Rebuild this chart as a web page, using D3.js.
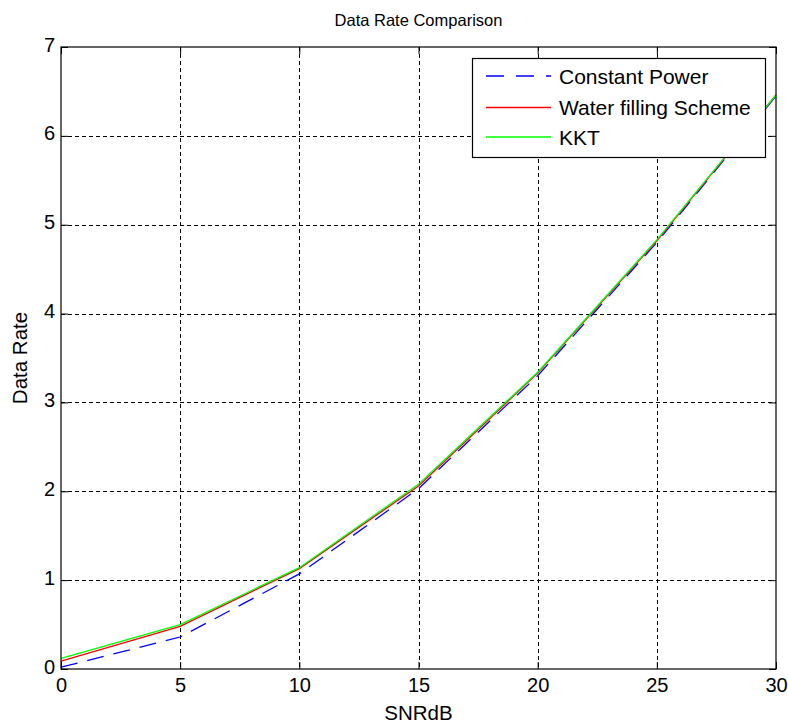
<!DOCTYPE html>
<html>
<head>
<meta charset="utf-8">
<script src="https://cdn.jsdelivr.net/npm/d3@7"></script>
<style>
  html, body { margin: 0; padding: 0; background: #fff; }
  svg { display: block; font-family: "Liberation Sans", Arial, sans-serif; }
</style>
</head>
<body>
<svg id="chart" width="788" height="727"></svg>
<script>
// ---- data ----
const snr = [0, 5, 10, 15, 20, 25, 30];
const constantPower = [0.02, 0.36, 1.07, 2.03, 3.30, 4.80, 6.45];
const waterFilling = [0.09, 0.48, 1.13, 2.06, 3.33, 4.82, 6.46];
const kkt = [0.12, 0.50, 1.14, 2.08, 3.34, 4.83, 6.46];
const seriesNames = ["Constant Power", "Water filling Scheme", "KKT"];
const xTicks = [0, 5, 10, 15, 20, 25, 30];
const yTicks = [0, 1, 2, 3, 4, 5, 6, 7];
const titleText = "Data Rate Comparison";
const xLabel = "SNRdB";
const yLabel = "Data Rate";

// ---- layout ----
const L = 61, R = 776, T = 47, B = 669;
const svg = d3.select("#chart");
const x = d3.scaleLinear().domain([0, 30]).range([L, R]);
const y = d3.scaleLinear().domain([0, 7]).range([B, T]);

// grid
const grid = svg.append("g").attr("stroke", "#000").attr("stroke-width", 1)
  .attr("stroke-dasharray", "4,3");
grid.selectAll(".gx").data(xTicks.slice(1, -1)).join("line")
  .attr("x1", d => Math.round(x(d)) + 0.5).attr("x2", d => Math.round(x(d)) + 0.5)
  .attr("y1", T).attr("y2", B);
grid.selectAll(".gy").data(yTicks.slice(1, -1)).join("line")
  .attr("y1", d => Math.round(y(d)) + 0.5).attr("y2", d => Math.round(y(d)) + 0.5)
  .attr("x1", L).attr("x2", R);

// lines
const series = [
  { name: seriesNames[0], values: constantPower, color: "#0000ff", dash: "17,10" },
  { name: seriesNames[1], values: waterFilling, color: "#ff0000", dash: null },
  { name: seriesNames[2], values: kkt, color: "#00ff00", dash: null }
];
const line = d3.line().x(d => x(d[0])).y(d => y(d[1]));
series.forEach(s => {
  svg.append("path")
    .datum(snr.map((v, i) => [v, s.values[i]]))
    .attr("d", line)
    .attr("fill", "none")
    .attr("stroke", s.color)
    .attr("stroke-width", 1.3)
    .attr("stroke-dasharray", s.dash);
});

// axes
const fmt = d3.format("d");
const gx = svg.append("g").attr("transform", `translate(0,${B})`)
  .call(d3.axisBottom(x).tickValues(xTicks).tickSizeInner(-7).tickSizeOuter(0).tickPadding(9).tickFormat(fmt));
const gy = svg.append("g").attr("transform", `translate(${L},0)`)
  .call(d3.axisLeft(y).tickValues(yTicks).tickSizeInner(-7).tickSizeOuter(0).tickPadding(6).tickFormat(fmt));
const gt = svg.append("g").attr("transform", `translate(0,${T})`)
  .call(d3.axisTop(x).tickValues(xTicks).tickSizeInner(-7).tickSizeOuter(0).tickFormat(""));
const gr = svg.append("g").attr("transform", `translate(${R},0)`)
  .call(d3.axisRight(y).tickValues(yTicks).tickSizeInner(-7).tickSizeOuter(0).tickFormat(""));
[gx, gy, gt, gr].forEach(g => {
  g.select(".domain").remove();
  g.selectAll("line").attr("stroke", "#000");
  g.selectAll("text").attr("fill", "#000").style("font-size", "20px")
    .style("font-family", "'Liberation Sans', Arial, sans-serif");
});
gy.selectAll("text").attr("dy", "0.2em");

svg.append("rect").attr("x", L).attr("y", T).attr("width", R - L).attr("height", B - T)
  .attr("fill", "none").attr("stroke", "#000").attr("stroke-width", 1.2);

// titles
svg.append("text").attr("x", (L + R) / 2).attr("y", 26).attr("text-anchor", "middle")
  .style("font-size", "16.5px").text(titleText);
svg.append("text").attr("x", (L + R) / 2).attr("y", 720).attr("text-anchor", "middle")
  .style("font-size", "20.5px").text(xLabel);
svg.append("text").attr("transform", `translate(27,${(T + B) / 2}) rotate(-90)`)
  .attr("text-anchor", "middle").style("font-size", "20.5px").text(yLabel);

// legend
const lg = svg.append("g");
lg.append("rect").attr("x", 472.5).attr("y", 58.5).attr("width", 293).attr("height", 99)
  .attr("fill", "#fff").attr("stroke", "#000").attr("stroke-width", 1.2);
const rowY = [76, 107.5, 137];
series.forEach((s, i) => {
  lg.append("line").attr("x1", 486).attr("x2", 551).attr("y1", rowY[i]).attr("y2", rowY[i])
    .attr("stroke", s.color).attr("stroke-width", 1.3).attr("stroke-dasharray", s.dash ? "18,12" : null);
  lg.append("text").attr("x", 559).attr("y", rowY[i] + 7.5)
    .style("font-size", "21px").attr("fill", "#000").text(s.name);
});
</script>
</body>
</html>
